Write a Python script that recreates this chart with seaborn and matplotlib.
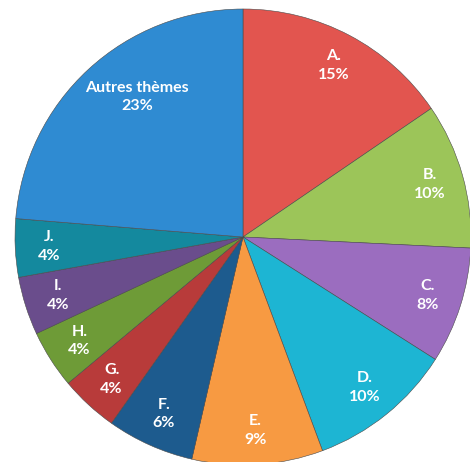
import numpy as np
import matplotlib
matplotlib.use("Agg")
import matplotlib.pyplot as plt
import seaborn as sns

categories = ["A.", "B.", "C.", "D.", "E.", "F.", "G.", "H.", "I.", "J.", "Autres thèmes"]
values = [15, 10, 8, 10, 9, 6, 4, 4, 4, 4, 23]
colors = ["#E2554F", "#9CC559", "#9B6DBF", "#1DB5D3", "#F79A42", "#1D5B8E",
          "#B83B3A", "#6E9B37", "#6A4D8C", "#14899E", "#2F8BD2"]

sns.set_theme(style="white")
plt.rcParams['font.family'] = ['Lato', 'DejaVu Sans']

fig = plt.figure(figsize=(4.70, 4.62), dpi=100)
ax = fig.add_axes([0, 0, 1, 1])

wedges, _ = ax.pie(values, colors=colors, startangle=90, counterclock=False,
                   radius=1.0, center=(0, 0),
                   wedgeprops=dict(edgecolor="#4a4a4a", linewidth=0.4))

for w, cat, v in zip(wedges, categories, values):
    mid = (w.theta1 + w.theta2) / 2
    r = 0.85
    if cat.startswith("Autres"):
        r = 0.77
        mid -= 5.5
    ang = np.deg2rad(mid)
    x, y = r * np.cos(ang), r * np.sin(ang)
    ax.text(x, y, f"{cat}\n{v}%", ha="center", va="center", color="white",
            fontsize=11.5, fontweight="bold", linespacing=1.4)

R = 228.0
cx, cy = 243.0, 237.0
ax.set_xlim(-cx / R, (470 - cx) / R)
ax.set_ylim(-(462 - cy) / R, cy / R)
ax.set_aspect("auto")
ax.axis("off")

fig.savefig("out.png", dpi=100, facecolor="white")
